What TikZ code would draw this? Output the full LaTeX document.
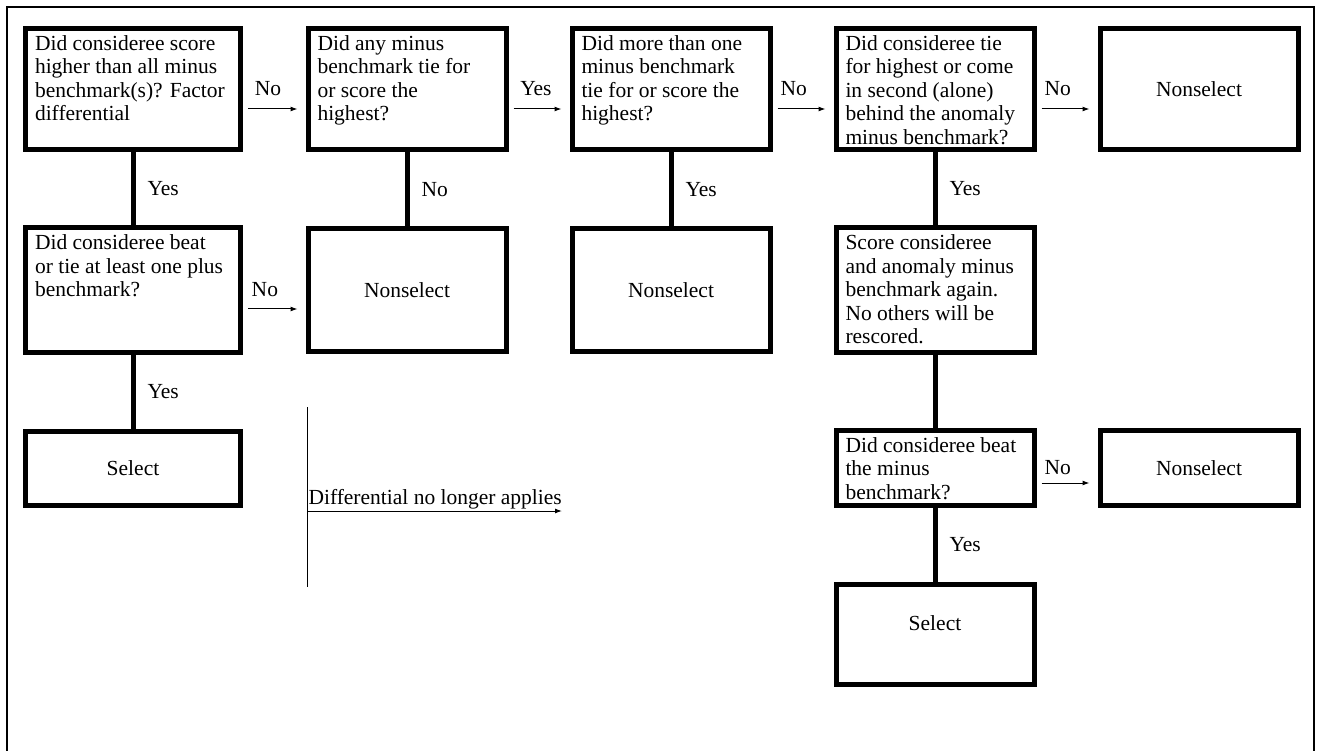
\documentclass[tikz,border=0pt]{standalone}
\usepackage{fontspec}
\setmainfont{Liberation Serif}
\usetikzlibrary{arrows.meta}
\newcommand{\qfont}{\fontsize{21.5pt}{23.5pt}\selectfont}
\newcommand{\ask}[3]{\parbox[c][#2][t]{#1}{\raggedright#3}}
\tikzset{box/.style={draw,rectangle,line width=5pt,font=\qfont}}
\tikzset{question/.style={box,inner xsep=9.5pt,inner ysep=7pt}}
\tikzset{answer/.style={box,minimum width=198pt,minimum height=122pt}}
\tikzset{flow/.style={line width=5pt}}
\tikzset{pointer/.style={-{Latex[length=7pt,width=5pt]},line width=1pt}}
\tikzset{branch/.style={pointer,shorten <=5pt,shorten >=8pt}}
\tikzset{tag/.style={font=\qfont,inner sep=1pt}}

\begin{document}
\begin{tikzpicture}[node distance=264pt]
\useasboundingbox (0pt,0pt) rectangle (1317pt,-751pt);
\draw[line width=2pt] (7pt,-751pt) -- (7pt,-7pt) -- (1314pt,-7pt) -- (1314pt,-751pt);
\node[question](higher) at (133pt,-89pt){\ask{196pt}{107pt}{Did consideree score\\higher than all minus\\benchmark(s)? Factor\\differential}};
\node[question](anytie)[right of=higher,xshift=10pt]{\ask{179pt}{107pt}{Did any minus\\benchmark tie for\\or score the\\highest?}};
\node[question](moretie)[right of=anytie]{\ask{179pt}{107pt}{Did more than one\\minus benchmark\\tie for or score the\\highest?}};
\node[question](tiesecond)[right of=moretie]{\ask{179pt}{107pt}{Did consideree tie\\for highest or come\\in second (alone)\\behind the anomaly\\minus benchmark?}};
\node[answer,minimum height=121pt](nonsel3)[right of=tiesecond]{Nonselect};
\node[question](beatplus)[below of=higher,node distance=201pt]{\ask{196pt}{110pt}{Did consideree beat\\or tie at least one plus\\benchmark?}}edge[flow] node[tag,right=11pt]{Yes} (higher);
\node[answer](nonsel1)[below of=anytie,node distance=201pt]{Nonselect}edge[flow] node[tag,right=11pt]{No} (anytie);
\node[answer](nonsel2)[below of=moretie,node distance=201pt]{Nonselect}edge[flow] node[tag,right=11pt]{Yes} (moretie);
\node[question](rescore)[below of=tiesecond,node distance=201pt]{\ask{179pt}{110pt}{Score consideree\\and anomaly minus\\benchmark again.\\No others will be\\rescored.}}edge[flow] node[tag,right=11pt]{Yes} (tiesecond);
\node[answer,minimum width=215pt,minimum height=74pt](select1)[below of=beatplus,node distance=178pt]{Select}edge[flow] node[tag,right=11pt]{Yes} (beatplus);
\node[question](beatminus)[below of=rescore,node distance=178pt]{\ask{179pt}{61pt}{Did consideree beat\\the minus\\benchmark?}}edge[flow](rescore);
\node[answer,minimum height=75pt](nonsel4)[right of=beatminus]{Nonselect};
\node[answer,minimum height=100pt,text depth=22pt](select2)[below of=beatminus,node distance=166.5pt]{Select}edge[flow] node[tag,right=11pt]{Yes} (beatminus);
\draw[branch]([yshift=-20pt]higher.east) -- node[tag,pos=.4,yshift=20pt]{No} ([yshift=-20pt]anytie.west);
\draw[branch]([yshift=-20pt]anytie.east) -- node[tag,pos=.45,yshift=20pt]{Yes} ([yshift=-20pt]moretie.west);
\draw[branch]([yshift=-20pt]moretie.east) -- node[tag,pos=.35,yshift=20pt]{No} ([yshift=-20pt]tiesecond.west);
\draw[branch]([yshift=-20pt]tiesecond.east) -- node[tag,pos=.35,yshift=20pt]{No} ([yshift=-20pt]nonsel3.west);
\draw[branch]([yshift=-19pt]beatplus.east) -- node[tag,pos=.35,yshift=19pt]{No} ([yshift=-19pt]nonsel1.west);
\draw[branch]([yshift=-15pt]beatminus.east) -- node[tag,pos=.35,yshift=15pt]{No} ([yshift=-15pt]nonsel4.west);
\coordinate (difftop) at (307pt,-407pt);
\coordinate (diffbot) at (307pt,-587pt);
\coordinate (diffstart) at (307pt,-511pt);
\coordinate (diffend) at (562pt,-511pt);
\draw[line width=1pt](difftop) -- (diffbot);
\draw[pointer](diffstart) -- node[tag,pos=0,anchor=south west]{Differential no longer applies} (diffend);
\end{tikzpicture}
\end{document}
